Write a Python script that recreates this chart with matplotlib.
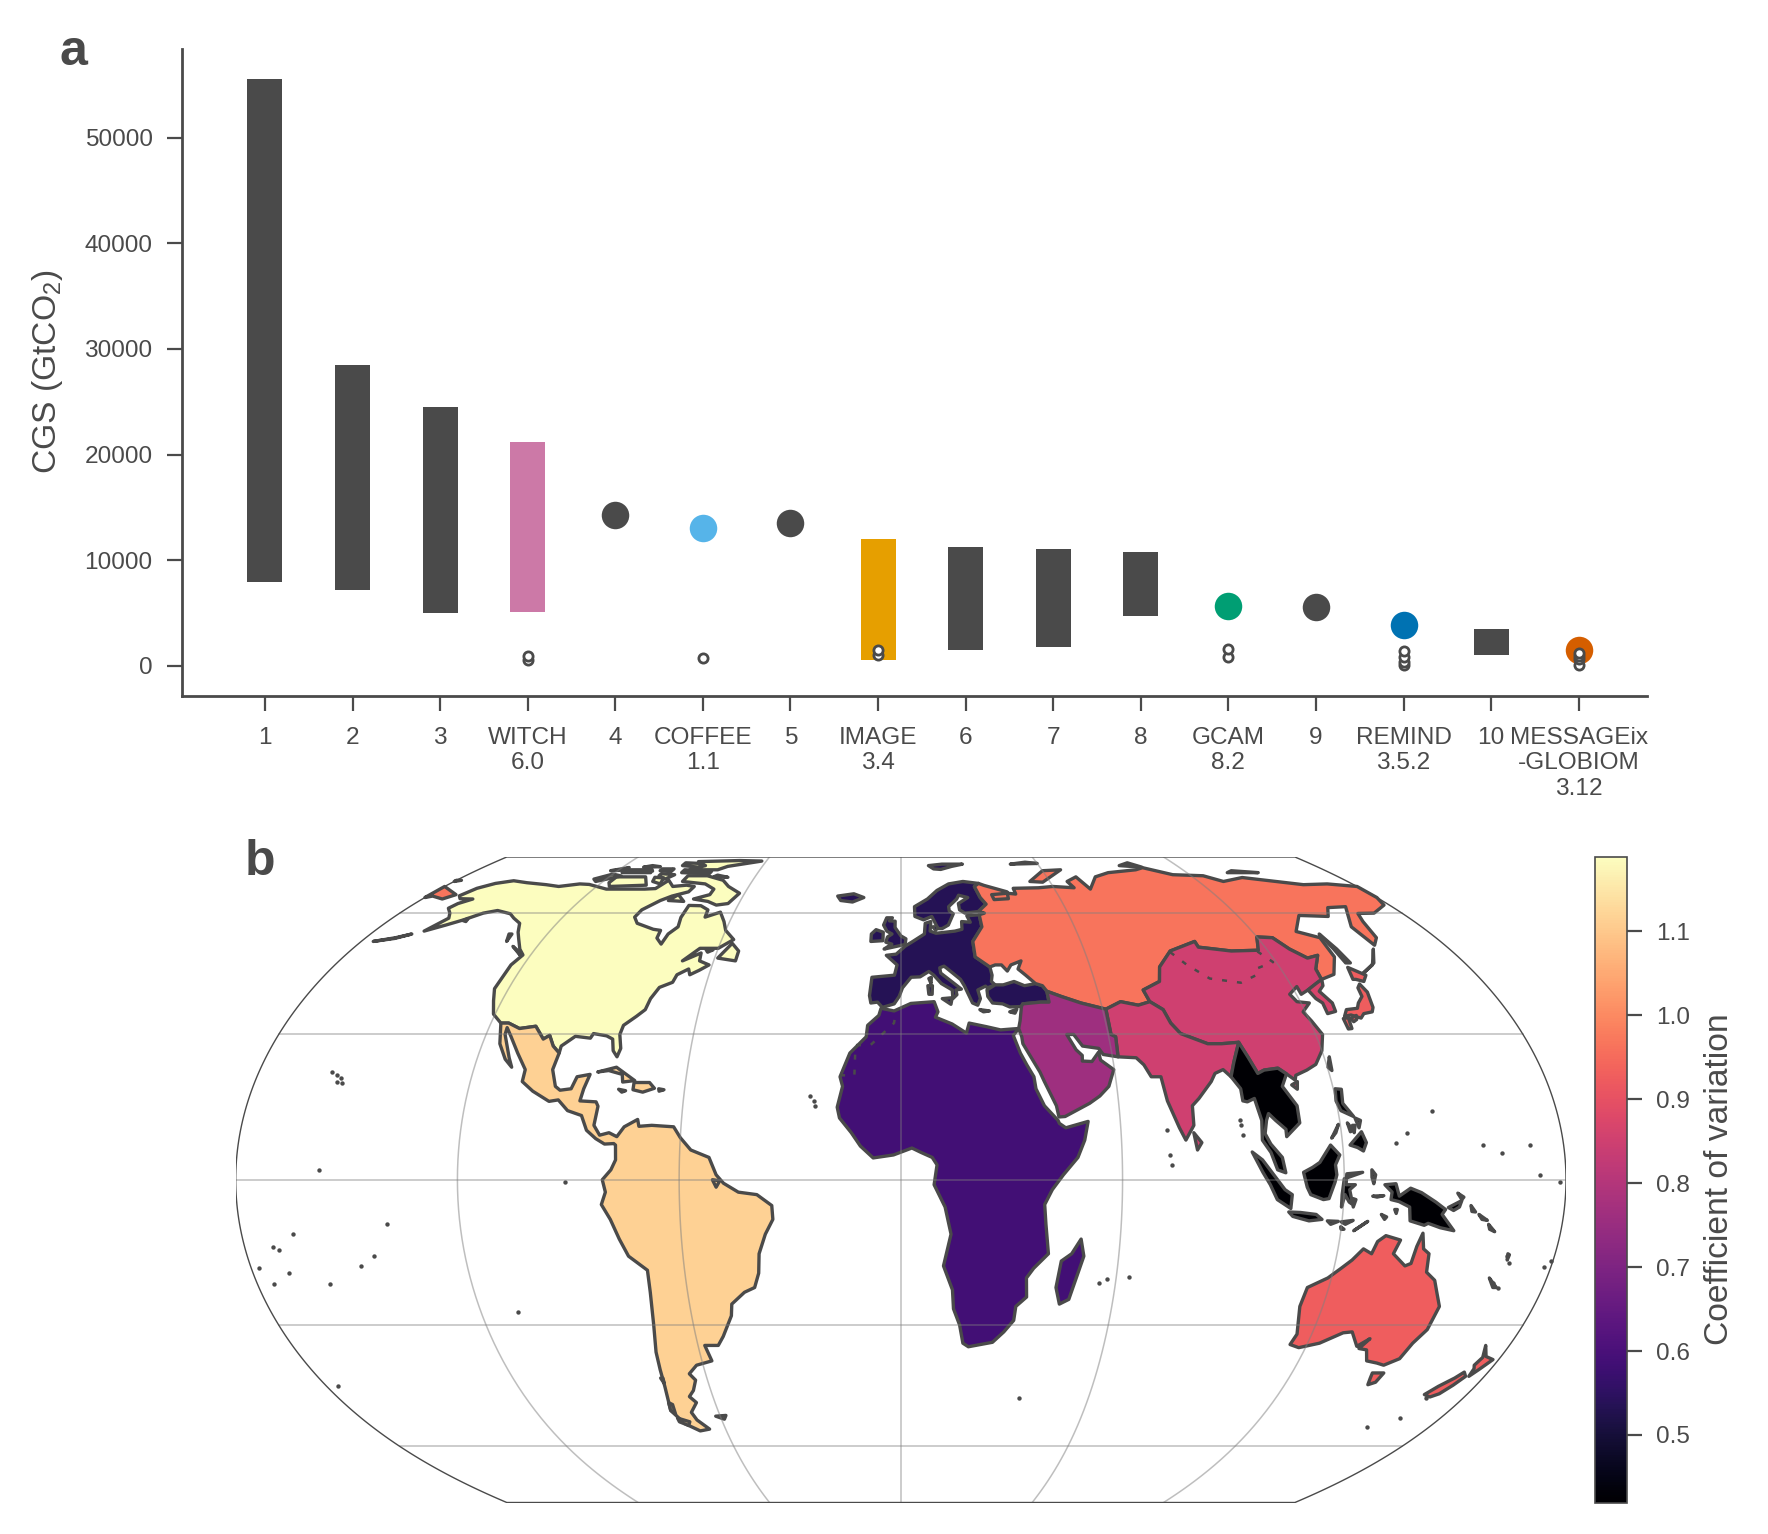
import numpy as np
import matplotlib
matplotlib.use('Agg')
import matplotlib.pyplot as plt
from matplotlib.patches import Polygon
from matplotlib.colors import Normalize
from matplotlib.cm import ScalarMappable

plt.rcParams['font.family'] = ['Liberation Sans', 'DejaVu Sans']
plt.rcParams['mathtext.default'] = 'regular'

DARK = '#4a4a4a'
W, H = 1768, 1534

# panel a
labels = ['1', '2', '3', 'WITCH\n6.0', '4', 'COFFEE\n1.1', '5', 'IMAGE\n3.4', '6', '7', '8',
          'GCAM\n8.2', '9', 'REMIND\n3.5.2', '10', 'MESSAGEix\n-GLOBIOM\n3.12']
colors = [DARK, DARK, DARK, '#cc79a7', DARK, '#56b4e9', DARK, '#e69f00', DARK, DARK, DARK,
          '#009e73', DARK, '#0072b2', DARK, '#d55e00']
low = [7900, 7200, 5000, 5100, 14300, 13000, 13500, 500, 1500, 1800, 4700, 5700, 5600, 3900, 1000, 1500]
high = [55600, 28500, 24500, 21200, 14300, 13000, 13500, 12000, 11200, 11100, 10800, 5700, 5600, 3900, 3500, 1500]
outlier_pos = [3, 3, 5, 7, 7, 11, 11, 13, 13, 13, 13, 15, 15, 15, 15]
outlier_val = [500, 900, 750, 1000, 1500, 800, 1550, 100, 400, 800, 1400, 50, 600, 900, 1250]

# panel b: coefficient of variation per region
cv_north_america = 1.1886
cv_latin_america = 1.115
cv_europe = 0.535
cv_africa = 0.585
cv_russia = 0.965
cv_china = 0.85
cv_south_asia = 0.85
cv_middle_east = 0.76
cv_se_asia = 0.42
cv_oceania = 0.925
cv_japan = 0.925
cv_korea = 0.87

# outlines, lon/lat
north_america = [
    [(-168, 65.6), (-166, 68.3), (-162, 70.2), (-156.5, 71.3), (-150, 70.5), (-141, 69.7), (-135, 69), (-128, 70),
     (-124, 69.8), (-115, 68), (-108, 68), (-100, 68), (-96, 68.2), (-94, 71.5), (-90, 69), (-85, 69.5), (-81.5, 69),
     (-82, 67), (-87, 65.5), (-90, 64), (-94, 61), (-94.5, 58.8), (-92, 57), (-85, 55.3), (-82.3, 55), (-82, 52.9),
     (-79.5, 51.3), (-79, 54), (-77, 56), (-78, 58.7), (-78, 62.4), (-73.5, 62.3), (-70, 61), (-69.5, 58.8),
     (-65, 60.3), (-62, 57.5), (-60, 55), (-56, 52.5), (-60, 50.2), (-66, 50.2), (-70, 47), (-65, 49), (-64.5, 47),
     (-61, 46), (-63.5, 44.7), (-66, 43.6), (-67, 45), (-70, 43.6), (-70.5, 41.8), (-74, 40.6), (-75.5, 38),
     (-76, 35.5), (-78, 34), (-81, 32), (-81.3, 30), (-80, 27), (-80.5, 25.2), (-82, 26.5), (-83, 29), (-85, 29.7),
     (-89, 30.2), (-89.5, 29.2), (-94, 29.6), (-97.2, 27.5), (-97.2, 26), (-99.5, 27.5), (-101.5, 29.8), (-103, 29),
     (-106.5, 31.8), (-111, 31.3), (-114.8, 32.5), (-117.1, 32.5), (-120.5, 34.5), (-122.5, 37.5), (-124.3, 40.3),
     (-124, 46), (-122.5, 48.5), (-125, 50), (-128, 52.5), (-130.5, 54.5), (-133, 57), (-137, 58.5), (-140, 59.8),
     (-146, 60.8), (-150, 60), (-152, 59), (-154, 58), (-158, 56.5), (-163, 54.8), (-160, 58.5), (-162, 60),
     (-165, 61.5), (-164, 63), (-161, 64.5), (-166, 64.6)],
    [(-80, 73.5), (-72, 71.5), (-68, 69), (-62, 66.5), (-64, 63), (-68, 62.5), (-72, 63.7), (-78, 64.5), (-73, 66),
     (-73, 68), (-78, 70), (-88, 71), (-88, 73.5)],
    [(-117, 73), (-105, 73), (-101, 69.5), (-115, 69), (-117, 70.5)],
    [(-125, 72), (-120, 74.3), (-115.5, 73.4), (-123, 71)],
    [(-90, 76.5), (-78, 76.5), (-75, 78.5), (-62, 82.5), (-72, 83), (-90, 82), (-85, 79)],
    [(-92, 75), (-80, 74.5), (-80, 75.7), (-92, 76.5)],
    [(-117, 75), (-105, 75), (-106, 76.5), (-117, 76.5)],
    [(-100, 73.5), (-96, 72), (-94, 74), (-100, 74.5)],
    [(-95, 79), (-87, 78), (-88, 80.5), (-95, 81)],
    [(-87, 64), (-81, 63.7), (-85, 66)],
    [(-59, 47.7), (-53, 47), (-53, 49.5), (-56, 51.5)],
    [(-128, 50.7), (-123.5, 48.5), (-125, 49.5)],
    [(-133, 54), (-131.5, 52), (-132, 54)],
    [(-176, 52), (-170, 52.8), (-166, 54), (-170, 53)],
    [(-154, 57.8), (-152.5, 57.5), (-153, 58.4)],
    [(-123, 76), (-117, 77.8), (-118, 76.3)],
    [(-111, 78), (-104, 78.3), (-108, 79)],
    [(-102, 76), (-97, 75.5), (-97, 77), (-102, 77)],
    [(-100, 71), (-96, 70), (-97, 72.5), (-101, 72.8)],
    [(-110, 76), (-105, 75.8), (-107, 77.3)],
    [(-77, 73), (-71, 72.8), (-76, 73.8)],
    [(-64, 50), (-61.5, 49.8), (-63, 49.2)],
]

latin_america = [
    [(-117.1, 32.5), (-114.8, 32.5), (-111, 31.3), (-106.5, 31.8), (-103, 29), (-101.5, 29.8), (-99.5, 27.5),
     (-97.2, 26), (-97.8, 22.5), (-96, 19), (-94.5, 18.2), (-91.5, 18.5), (-90.5, 21), (-87, 21.5), (-88, 18.5),
     (-88.5, 16), (-84, 15.8), (-83.3, 14.9), (-83.8, 11), (-82, 9), (-79.5, 9.5), (-77.3, 8.7), (-75.5, 10.7),
     (-72, 12.2), (-71.5, 10.8), (-68, 11), (-62, 10.7), (-60, 8.5), (-57, 6), (-52, 4.5), (-50, 1), (-48, -0.7),
     (-44, -2.5), (-39, -3), (-35, -5.2), (-34.8, -8), (-37, -11), (-39, -15), (-39.5, -19), (-41, -22), (-44, -23),
     (-48, -25.5), (-48.6, -28), (-52, -32.5), (-54, -34.5), (-58, -34.5), (-57, -38), (-62, -39), (-65, -41),
     (-63.7, -42.5), (-65.5, -45), (-67.5, -46.5), (-66, -48), (-69, -50.5), (-68.3, -52.5), (-65.5, -55), (-69, -55.5),
     (-73, -53.5), (-75.5, -50), (-74, -44), (-73.5, -40), (-73, -36), (-71.5, -30), (-70.5, -23), (-70.3, -18.4),
     (-75, -15.5), (-77, -12), (-79, -8), (-81.2, -5), (-80, -2.5), (-80.8, 0), (-78.5, 2), (-77.3, 4), (-77.5, 7),
     (-78, 7.3), (-80.5, 7.2), (-83, 8.3), (-85.7, 10), (-87.5, 13), (-91.5, 14), (-94.5, 16.2), (-97, 15.9),
     (-102, 18), (-105.5, 20), (-105.5, 22.5), (-109, 26), (-112.5, 29.5), (-114.7, 31.5), (-114.5, 30), (-111, 25),
     (-109.5, 23), (-112, 24.7), (-115, 28)],
    [(-85, 22), (-80, 23), (-74.2, 20.2), (-77.5, 19.9), (-78, 21.5), (-82, 22.3)],
    [(-74.3, 19.8), (-70, 19.8), (-68.4, 18.6), (-71.5, 17.8), (-74.3, 18.3)],
    [(-78.3, 18.4), (-76.3, 18.1), (-77.3, 17.8)],
    [(-67.2, 18.5), (-65.7, 18.3), (-67, 18)],
    [(-61.5, -51.5), (-58, -51.3), (-59, -52.3)],
    [(-51, 0), (-49, -0.2), (-50, -1.5)],
    [(-75, -48), (-74, -48.5), (-74.5, -51), (-75.5, -50)],
    [(-74.3, -42), (-73.6, -42), (-73.8, -43.3)],
    [(-74.5, -52), (-71, -53), (-72, -54), (-74.5, -53)],
]

europe = [
    [(-9, 37), (-9.5, 38.7), (-9, 43), (-2, 43.5), (-1.2, 46), (-4.7, 48.4), (-1.5, 48.7), (1.5, 50.8), (4, 52), (8, 54),
     (8.5, 57), (10.5, 57.5), (10, 54.8), (12, 54.2), (18.5, 54.8), (21, 55.3), (21.3, 57.5), (24.3, 57.3), (23.5, 59.2),
     (28, 59.5), (28, 56), (24, 52), (24, 48), (28.2, 45.5), (28.5, 43.5), (28, 42), (29, 41.2), (26.5, 40.5), (26, 40.9),
     (23.5, 40), (24, 38), (23, 36.5), (21.5, 37), (19.5, 41), (18.5, 42.5), (14.5, 45.2), (13.7, 45.7), (12.3, 45.3),
     (12.5, 44), (16, 41.8), (18.5, 40.2), (16.8, 40), (17, 38.9), (15.7, 38), (15.7, 40), (12.5, 41.5), (10.3, 43.5),
     (8.8, 44.4), (6, 43.1), (3.2, 43), (0.5, 40.5), (-0.5, 38.5), (-2, 36.8), (-5.5, 36), (-7, 37.2)],
    [(5, 59), (5, 62), (10, 64.5), (14, 67.5), (19, 70), (25, 71), (31, 70.2), (29, 69), (30, 65), (31.5, 62.8), (28, 60.5),
     (23, 60), (21.3, 61), (21.3, 63), (25.3, 65), (22, 65.8), (21, 64.5), (17.5, 62), (17.5, 60.7), (18.8, 59.8),
     (16.5, 56.5), (14.2, 55.5), (12.8, 55.5), (11, 59), (8, 58)],
    [(26.3, 40), (29, 41.2), (31.5, 41.2), (35, 42), (38, 41), (41.5, 41.5), (43.5, 41), (44.5, 39.7), (44.5, 37.2),
     (42, 37.2), (36.5, 36.8), (36, 36.2), (32.5, 36.1), (30.5, 36.8), (27.5, 37), (26.3, 38.5)],
    [(-5.5, 50), (1.4, 51.2), (1.7, 52.7), (0, 53.5), (-2, 55.8), (-2, 57.6), (-4, 57.7), (-3, 58.6), (-5, 58.6), (-6, 56.5),
     (-4.8, 54.8), (-3, 54), (-4.5, 53.2), (-5, 51.8), (-3, 51.3)],
    [(-10, 52), (-6, 52.2), (-6, 54.5), (-8.5, 55.2), (-10, 54)],
    [(-24, 65.5), (-18, 66.3), (-14, 65), (-18, 63.5), (-22.5, 64)],
    [(12.5, 38), (15.5, 38.2), (15, 36.7)],
    [(8.3, 41), (9.7, 41), (9.5, 39), (8.5, 39)],
    [(8.7, 42.7), (9.5, 43), (9.3, 41.5)],
    [(23.5, 35.5), (26.3, 35.2), (24.5, 35)],
    [(32.3, 35), (34.5, 35.6), (33.8, 34.7)],
    [(14, 77), (17, 76.7), (22, 78.5), (27, 80), (18, 80), (12, 79)],
    [(11, 56), (12.5, 56), (12, 55)],
]

africa = [
    [(-5.9, 35.8), (-2, 35.2), (3, 36.9), (10, 37.3), (11, 35), (10.2, 33.8), (15, 32.3), (19, 30.3), (20, 32.5), (25, 31.7),
     (29, 31), (32.3, 31.2), (34.3, 31.3), (32.5, 29.8), (34, 26), (35.5, 23.5), (37.2, 21), (37.5, 18.5), (39.5, 15),
     (43, 12), (43.3, 11.4), (45, 10.5), (51.2, 11.8), (50, 8), (48, 4.5), (44, 1), (41, -2), (39, -5), (39.5, -9),
     (40.6, -15), (36.8, -18), (35, -20), (35.5, -24), (32.7, -26), (32.5, -29), (30, -31.5), (27, -33.8), (20, -34.8),
     (18.3, -34), (17, -30), (15, -26.5), (14.5, -22.5), (11.8, -17.5), (13.7, -11), (12, -5.5), (9, -1), (9.8, 3),
     (8.5, 4.5), (5.5, 5.5), (3, 6.4), (-2, 5), (-7.5, 4.4), (-11, 6.8), (-13.5, 9.5), (-16.8, 12.5), (-17.5, 14.7),
     (-16.2, 19), (-17, 21), (-14.5, 26), (-10, 29.5), (-9.7, 32), (-6.5, 34.2)],
    [(49.3, -12), (50.4, -15.5), (47.5, -24.5), (45, -25.5), (43.5, -22), (44.3, -16.5), (47, -15)],
]

russia = [
    [(28, 59.5), (30, 60), (28, 60.5), (31.5, 62.8), (30, 65), (29, 69), (31, 70.2), (33, 69.4), (41, 67), (40.5, 64.6),
     (35, 64.3), (34.7, 66), (41, 66.5), (44, 66.2), (44, 68.3), (54, 68.5), (60, 69), (68, 68.5), (67, 71), (72, 73),
     (74, 68), (80, 73), (87, 75), (100, 76.5), (104, 77.7), (113, 74), (125, 73.5), (130, 71), (140, 72.7), (160, 69.7),
     (170, 70), (180, 69), (180, 65), (178, 62.5), (170, 60), (164, 59.9), (162, 57.5), (160, 53), (156.7, 51), (155.7, 56),
     (163, 62), (156, 61.7), (152, 59), (142, 59.3), (135, 54.7), (141, 53), (140, 48), (135.5, 43.7), (130.6, 42.5),
     (130.6, 43), (131, 45), (135, 48.4), (131, 47.7), (127.5, 50), (125, 53), (120, 53.2), (117, 49.7), (108, 49.5),
     (98, 50.5), (98, 52), (88, 49.5), (82, 45.5), (80, 42), (74, 40), (74.8, 37.3), (71, 36.5), (66, 37.3), (61, 35.6),
     (54, 37), (48.5, 38.5), (44.5, 39.7), (43.5, 41), (41.5, 41.5), (39, 43.5), (37, 45), (38.5, 47), (35, 46),
     (33.5, 44.5), (32, 46), (30, 46), (28.2, 45.5), (24, 48), (24, 52), (28, 56)],
    [(-180, 65), (-180, 69), (-175, 67.5), (-170, 66), (-172.5, 64.5), (-178, 65.5)],
    [(52, 71), (57, 70.7), (68, 76.5), (60, 76)],
    [(142, 54), (143, 50), (143.5, 46.5), (142, 46.5), (142, 50)],
    [(95, 79), (104, 78), (100, 81)],
    [(137, 75), (146, 75), (150, 75), (140, 76)],
    [(48, 80), (60, 80.5), (55, 81.5)],
    [(-180, 71), (-178, 71.5), (-180, 71.5)],
    [(145, 44), (150, 46), (155, 50), (151, 46.5)],
]

china = [
    [(130.6, 43), (131, 45), (135, 48.4), (131, 47.7), (127.5, 50), (125, 53), (120, 53.2), (117, 49.7), (108, 49.5), (98, 50.5),
     (98, 52), (88, 49.5), (82, 45.5), (80, 42), (74, 40), (74.8, 37.3), (78, 35.5), (79, 32.5), (81, 30.2), (88, 28), (92, 28),
     (97, 28.3), (98.5, 25), (100, 21.7), (102, 22.4), (106, 22.8), (108, 21.6), (110, 20.3), (110.5, 21.3), (114, 22.4),
     (117, 23.6), (120, 26.5), (122, 30), (120.5, 33), (119.3, 35), (122.5, 37), (119, 37.3), (118, 39), (121.5, 40.8),
     (121.5, 39), (124.3, 40), (128, 41.5), (130.6, 42.5)],
    [(108.7, 19.3), (110.5, 20), (110, 18.4)],
    [(120.2, 23), (121.5, 25.2), (121, 22.3)],
]

south_asia = [
    [(61, 35.6), (66, 37.3), (71, 36.5), (74.8, 37.3), (78, 35.5), (79, 32.5), (81, 30.2), (88, 28), (92, 28), (97, 28.3),
     (94, 24), (92.3, 21), (90.5, 22.5), (88, 21.7), (86.5, 20), (82.3, 16.5), (80.2, 15), (80, 11), (77.5, 8), (76, 10.5),
     (73.5, 16), (72.7, 21), (70, 21), (68.5, 23.5), (66.7, 25), (61.6, 25.2), (62, 29.5), (60.8, 30)],
    [(79.8, 9.5), (81.8, 7.5), (80.5, 6)],
]

middle_east = [
    [(36, 36.2), (36.5, 36.8), (42, 37.2), (44.5, 37.2), (44.5, 39.7), (48.5, 38.5), (54, 37), (61, 35.6), (60.8, 30), (62, 29.5),
     (61.6, 25.2), (57.5, 25.7), (56.5, 27), (52, 27.5), (50, 30), (48, 30), (50, 26.7), (51.5, 25.5), (51.3, 24.3), (54, 24.2),
     (56.3, 26.2), (56.5, 24.5), (59.8, 22.5), (57.8, 19), (55, 17), (52, 15.5), (45, 12.8), (43.3, 12.7), (42.8, 15), (40, 20),
     (39, 22), (35, 28), (34.9, 29.5), (34.3, 31.3), (35, 33)],
]

se_asia = [
    [(92.3, 21), (94, 24), (97, 28.3), (98.5, 25), (100, 21.7), (102, 22.4), (106, 22.8), (108, 21.6), (106, 19), (109, 15),
     (109, 11.5), (105, 8.7), (105, 10.2), (102.5, 12), (100.8, 13.4), (100, 12), (99.2, 9.3), (100.5, 7.2), (103.4, 4.5),
     (104.2, 1.4), (102, 2), (100.4, 5.5), (98.3, 8), (98.7, 12), (97.6, 16.5), (95.5, 15.8), (94.3, 16), (94.3, 18.5)],
    [(95.3, 5.6), (98, 4), (104, -2), (106, -3), (105.8, -5.8), (102, -4), (100, -1), (98, 1.5)],
    [(105.3, -6.5), (108.5, -6.6), (112.8, -7), (114.5, -8), (111, -8.3), (106.5, -7.4)],
    [(109, 1.5), (111.5, 2.5), (113.5, 3.5), (116.7, 7), (119, 5), (117.7, 3), (118, 1), (117.5, -0.5), (116, -3.8), (114.5, -4),
     (111, -3), (110, -1.5)],
    [(119.5, -5.5), (120.3, -3), (121.5, -4.5), (122.5, -5), (121.5, -2), (123, -1), (120.5, -1), (120.7, 1.2), (125, 1.5),
     (120, 0.2), (119.5, -3)],
    [(131, -1), (134, -0.8), (135, -3.3), (138, -1.7), (141, -2.6), (145, -4.5), (147.8, -6), (147, -7), (150.8, -10.3),
     (147, -9.7), (143.5, -8.8), (142.5, -9.2), (138.5, -8.3), (138, -5.5), (135, -4.4), (132.8, -4), (133, -2.5)],
    [(120.5, 18.5), (122.2, 18.4), (121.7, 15.5), (124, 12.8), (120.8, 14), (120, 16)],
    [(122, 7), (125.5, 9.7), (126.5, 7.5), (125.5, 5.8), (124, 6.5)],
    [(117.2, 8.4), (119.5, 11.2), (118.5, 9.5)],
    [(124.3, 12.5), (125.7, 12), (125, 10.5)],
    [(122, 11.5), (123.3, 10), (122.5, 9.7)],
    [(123.3, 11), (124, 11), (123.5, 9.5)],
    [(127.5, 2), (128.5, 1), (128, -0.8), (127.5, 0.5)],
    [(127.8, -3.3), (130.8, -3.2), (129, -3.5)],
    [(116, -8.3), (119, -8.4), (117, -9)],
    [(119.8, -8.5), (123, -8.2), (121, -9)],
    [(123.5, -10.3), (127, -8.4), (125, -9.5)],
    [(119.8, -9.5), (120.8, -10), (120, -10)],
    [(148.5, -5.6), (152, -4.2), (151.5, -5.5), (150, -6.2)],
    [(150.8, -2.7), (152.5, -3.5), (152, -4)],
    [(154.6, -5.2), (156, -6.5), (155, -6.4)],
    [(157, -7), (159.5, -8.2), (158, -8)],
    [(160, -9), (162, -10.5), (160.5, -10)],
    [(130.5, -7), (132, -7.5), (131.5, -8)],
    [(134, -6), (134.7, -6), (134.5, -6.8)],
    [(122.5, -3.8), (123.3, -4), (122.7, -5.5)],
    [(167, -15), (167.5, -15.2), (167.3, -16.3)],
    [(164, -20), (167, -22), (166, -22)],
]

oceania = [
    [(114, -22), (113.5, -26), (115.7, -32), (115, -34.3), (118, -35), (123.5, -34), (129, -31.7), (131.5, -31.5), (135, -34.7),
     (137.7, -33), (136, -35.2), (138.5, -35.5), (140.5, -38), (144, -38.5), (146.5, -39), (150, -37.5), (151, -34), (153, -31),
     (153.2, -26), (150.8, -23), (149, -20.5), (146, -18.8), (145.3, -15), (143.5, -14), (142.5, -10.8), (141.5, -13.5),
     (141, -17), (139.5, -17.5), (135.5, -15), (136.7, -12.2), (132.5, -11.3), (130.5, -12.5), (129.5, -15), (127, -14),
     (124.5, -16.3), (122, -18), (119, -20)],
    [(144.7, -40.8), (148.2, -40.8), (147.8, -43), (146, -43.6), (145.2, -42)],
    [(173, -34.5), (175.5, -37), (178.3, -37.7), (176.5, -40), (175.2, -41.6), (174.8, -39.8), (174, -39), (174.7, -37.2)],
    [(172.7, -40.6), (174.2, -41.6), (172.8, -43.7), (171, -45.8), (169, -46.6), (166.5, -46), (168.5, -44), (171.3, -42)],
]

japan = [
    [(130.9, 34), (132.5, 35.5), (136, 35.8), (137.2, 37), (139.5, 38.5), (140, 40.5), (141.3, 41.4), (142, 39.5), (140.8, 36),
     (139.8, 35), (137, 34.6), (135.5, 33.6), (133, 34.3)],
    [(140.3, 42.5), (141.5, 45.4), (145.3, 43.5), (143.2, 42), (141.2, 42.5)],
    [(130.2, 33.5), (131.8, 33.7), (131.3, 31.3), (130.2, 31.2)],
    [(132.3, 33.5), (134.5, 34.2), (134, 33.3), (132.8, 32.8)],
]

korea = [
    [(124.3, 40), (125.2, 38), (126.5, 37), (126.3, 34.6), (129, 35.1), (129.4, 37), (127.5, 39.7), (129.7, 41), (130.6, 42.5),
     (128, 41.5)],
]

# inner borders that show as broken lines on the map
mongolia_border = [(87.8, 49.2), (91, 46), (96, 42.7), (105, 41.7), (111, 43.5), (112, 45), (119, 46.7), (116, 49.8)]
sahara_border = [(-17, 21.3), (-13, 21.3), (-13, 27.7), (-8.7, 27.7), (-2, 32.5), (-1.5, 35)]

# islands too small to see more than a dot
dot_lon = [-155.5, -156.5, -157.9, -159.5, -157.4, -91, -172.3, -170.7, -175.2, -178, -149.5, -145, -140, -109.4, -176.5, -159.8,
           -169.9, -157.2, -24, -23.5, -25, 55.5, 57.5, 63.5, 73, 73.3, 72.5, 92.7, 93.2, 92.8, 167, 168, 165.5, 167.5,
           178, 179.5, 158, 163, 145.7, 134.5, 138, 171, 173, 168, 178.5, 37.7, 159, 166.5, -166]
dot_lat = [19.6, 20.8, 21.4, 22, 1.9, -0.5, -13.7, -14.3, -21.2, -18, -17.6, -15.5, -9, -27.1, -44, -21.2, -19, 20, 16, 15,
           17, -21, -20.3, -19.7, 5, 3, 10, 12, 9, 11, -15.5, -17, -21, -22, -17.8, -16.5, 7, 5.3, 14, 7.5, 9.5, 7, 1,
           -46.8, -0.5, -46.9, -54.5, -52, -11]

regions = [(north_america, cv_north_america), (latin_america, cv_latin_america), (europe, cv_europe), (africa, cv_africa),
           (russia, cv_russia), (china, cv_china), (south_asia, cv_south_asia), (middle_east, cv_middle_east),
           (se_asia, cv_se_asia), (oceania, cv_oceania), (japan, cv_japan), (korea, cv_korea)]


def equal_earth(lon, lat):
    A1, A2, A3, A4 = 1.340264, -0.081106, 0.000893, 0.003796
    lam, phi = np.radians(lon), np.radians(lat)
    th = np.arcsin(np.sqrt(3) / 2 * np.sin(phi))
    x = 2 * np.sqrt(3) * lam * np.cos(th) / (3 * (9 * A4 * th**8 + 7 * A3 * th**6 + 3 * A2 * th**2 + A1))
    y = A4 * th**9 + A3 * th**7 + A2 * th**3 + A1 * th
    return x, y


def axes_px(fig, left, top, right, bottom, **kw):
    return fig.add_axes([left / W, 1 - bottom / H, (right - left) / W, (bottom - top) / H], **kw)


fig = plt.figure(figsize=(W / 200, H / 200), dpi=200)

# --- panel a ---
ax = axes_px(fig, 181.5, 48.7, 1647, 695.6)
pos = np.arange(len(labels))
for i in pos:
    if high[i] > low[i]:
        ax.bar(i, high[i] - low[i], bottom=low[i], width=0.4, color=colors[i], zorder=2)
    else:
        ax.scatter(i, low[i], s=98, color=colors[i], linewidths=0, zorder=2)
ax.scatter(outlier_pos, outlier_val, s=11, facecolor='white', edgecolor=DARK, linewidths=1.0, zorder=3)
ax.set_xlim(-0.953, 15.78)
ax.set_ylim(-2825, 58430)
ax.set_xticks(pos)
ax.set_xticklabels(labels, linespacing=1.2)
ax.set_yticks(range(0, 60000, 10000))
ax.tick_params(axis='y', colors=DARK, labelsize=8.8, length=5.4, width=0.8, pad=5)
ax.tick_params(axis='x', colors=DARK, labelsize=8.8, length=5.4, width=0.8, pad=5.8)
ax.set_ylabel('CGS (GtCO$_2$)', fontsize=12.1, color=DARK)
ax.yaxis.set_label_coords((65 - 181.5) / (1647 - 181.5), (695.6 - 372) / (695.6 - 48.7))
for s in ['top', 'right']:
    ax.spines[s].set_visible(False)
for s in ['left', 'bottom']:
    ax.spines[s].set_color(DARK)
    ax.spines[s].set_linewidth(1.0)

# --- panel b ---
cmap = plt.get_cmap('magma')
norm = Normalize(0.4195, 1.1886)
mp = axes_px(fig, 235.7, 857, 1566, 1502.5)
for polys, cv in regions:
    for poly in polys:
        xs, ys = equal_earth(*np.array(poly, dtype=float).T)
        mp.add_patch(Polygon(np.c_[xs, ys], closed=True, facecolor=cmap(norm(cv)), edgecolor=DARK, linewidth=1.2,
                             joinstyle='round', zorder=2))
for border in [mongolia_border, sahara_border]:
    xs, ys = equal_earth(*np.array(border, dtype=float).T)
    mp.plot(xs, ys, color=DARK, lw=0.9, ls=(0, (2, 4)), zorder=2.5)
dx, dy = equal_earth(np.array(dot_lon), np.array(dot_lat))
mp.scatter(dx, dy, s=2.5, color=DARK, linewidths=0, zorder=2)

for lat in [-60, -30, 0, 30, 60]:
    gx, gy = equal_earth(np.linspace(-180, 180, 3), np.full(3, float(lat)))
    mp.plot(gx, gy, color='#7f7f7f', alpha=0.5, lw=0.55, zorder=3)
for lon in [-120, -60, 0, 60, 120]:
    gx, gy = equal_earth(np.full(91, float(lon)), np.linspace(-90, 90, 91))
    mp.plot(gx, gy, color='#7f7f7f', alpha=0.5, lw=0.55, zorder=3)

blat = np.linspace(-90, 90, 181)
bx, by = equal_earth(np.full(181, 180.0), blat)
frame_x = np.r_[bx, -bx[::-1]]
frame_y = np.r_[by, by[::-1]]
mp.add_patch(Polygon(np.c_[frame_x, frame_y], closed=True, fill=False, edgecolor=DARK, linewidth=0.5, zorder=4))
mp.set_xlim(equal_earth(-180.0, 0.0)[0], equal_earth(180.0, 0.0)[0])
mp.set_ylim(by.min(), by.max())
mp.axis('off')

cax = axes_px(fig, 1595, 857, 1627, 1502.5)
cb = fig.colorbar(ScalarMappable(norm=norm, cmap=cmap), cax=cax)
cb.set_ticks([0.5, 0.6, 0.7, 0.8, 0.9, 1.0, 1.1])
cb.ax.tick_params(colors=DARK, labelsize=8.8, length=5.4, width=0.8, pad=5)
cb.outline.set_edgecolor(DARK)
cb.outline.set_linewidth(0.6)
fig.text(1720 / W, 1 - 1179 / H, 'Coefficient of variation', rotation=90, fontsize=12.1, color=DARK, ha='center', va='center')

fig.text(73.5 / W, 1 - 52 / H, 'a', fontsize=18, fontweight='bold', color=DARK, ha='center', va='center')
fig.text(259.5 / W, 1 - 862 / H, 'b', fontsize=18, fontweight='bold', color=DARK, ha='center', va='center')

fig.savefig('out.png', dpi=200)
